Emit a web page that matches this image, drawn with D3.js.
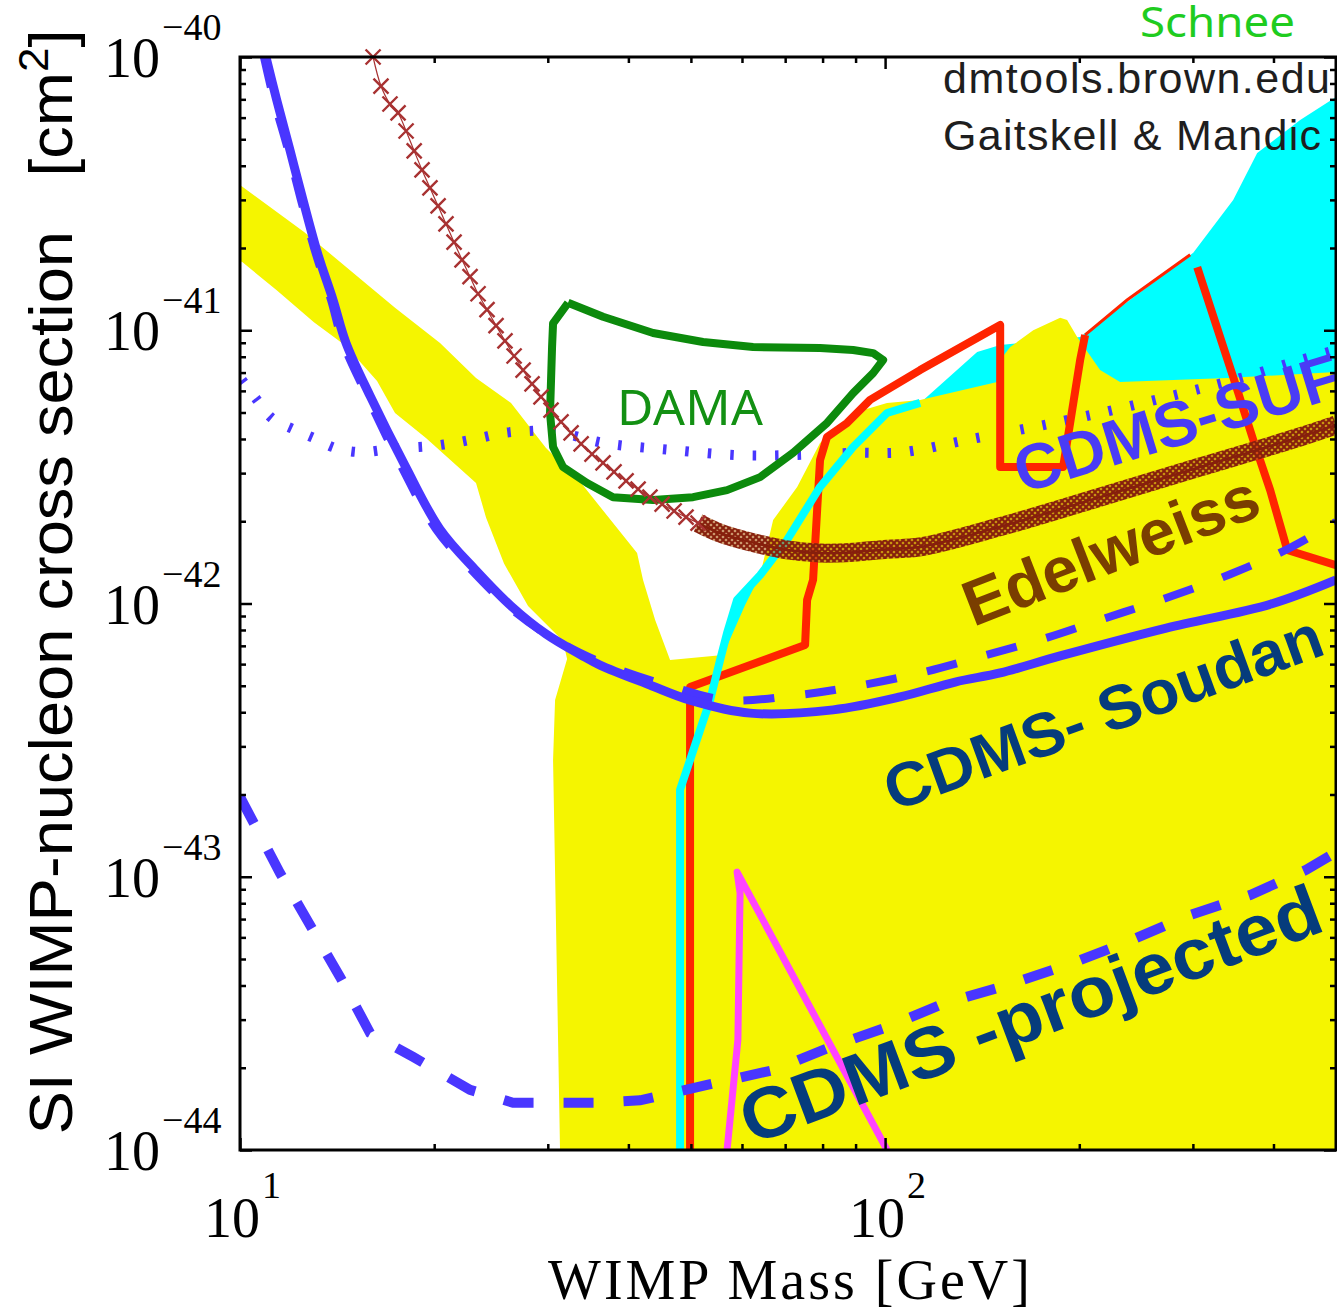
<!DOCTYPE html>
<html>
<head>
<meta charset="utf-8">
<script src="https://d3js.org/d3.v7.min.js"></script>
<style>
  body { margin: 0; background: #fff; }
  svg { display: block; }
  .tick line { stroke: #000; stroke-width: 2.5; }
</style>
</head>
<body>
<script>
// all values: [WIMP mass in GeV, cross section in cm^2]

// allowed region (yellow), band on the left plus the big area on the right
var yellowRegion = [[10,3.40e-41],[12.57,2.29e-41],[15.91,1.44e-41],[17.39,1.21e-41],[20.42,8.98e-42],
  [23.22,6.69e-42],[26.31,5.42e-42],[29.81,3.71e-42],[33.79,2.76e-42],[37.87,1.97e-42],[41.26,1.53e-42],
  [42.15,1.22e-42],[44.01,8.70e-43],[46.42,6.21e-43],[56.09,6.48e-43],[60.67,9.87e-43],[64.01,1.27e-42],
  [67.06,2.02e-42],[73.06,2.67e-42],[79.28,3.87e-42],[89.21,4.98e-42],[100.7,5.42e-42],[113.3,5.56e-42],
  [149.2,6.46e-42],[150.8,7.78e-42],[156.3,8.68e-42],[169.7,1.00e-41],[186.8,1.11e-41],[191.5,1.09e-41],
  [198.5,9.45e-42],[215.4,7.15e-42],[231.3,6.46e-42],[339,6.69e-42],[500,7.03e-42],[500,1e-44],
  [31.34,1e-44],[30.57,2.67e-43],[30.79,4.43e-43],[32.14,6.26e-43],[31.68,7.29e-43],[27.96,9.79e-43],
  [25.66,1.40e-42],[24.07,2.06e-42],[23.22,2.76e-42],[19.42,4.03e-42],[17.39,4.98e-42],[16.31,6.52e-42],
  [14.60,8.76e-42],[13.02,1.07e-41],[11.4,1.40e-41],[10.07,1.78e-41],[10,1.78e-41]];

// cyan region
var cyanRegion = [[48.10,1e-44],[48.10,2.08e-43],[51.66,3.44e-43],[55.49,6.21e-43],[58.96,1.03e-42],
  [64.01,1.27e-42],[70.48,1.71e-42],[79.28,2.67e-42],[89.21,3.74e-42],[100.7,4.98e-42],[113.3,5.42e-42],
  [138.9,8.32e-42],[150.8,8.83e-42],[200.6,9.45e-42],[300.4,1.92e-41],[346.4,3.00e-41],[377.4,4.45e-41],
  [440,5.88e-41],[500,7.14e-41],[500,1e-44]];

var cyanLine = [[48.10,1e-44],[48.10,2.08e-43],[51.66,3.44e-43],[53.55,4.43e-43],[55.49,6.21e-43],
  [56.89,7.80e-43],[58.96,1.03e-42],[64.01,1.27e-42],[70.48,1.71e-42],[79.28,2.67e-42],[89.21,3.74e-42],
  [100.7,4.98e-42],[113.3,5.42e-42]];

// red limit: thick lower part, thin piece on the cyan edge, thick right part
var redLine = [[49.85,1e-44],[49.85,4.95e-43],[75.16,7.05e-43],[75.70,1.03e-42],[77.33,1.22e-42],
  [79.28,3.35e-42],[81.29,4.07e-42],[87.32,4.58e-42],[94.78,5.56e-42],[113.3,7.15e-42],[150.8,1.045e-41],
  [150.8,3.16e-42],[188.8,3.16e-42],[200.6,7.78e-42],[204.2,9.61e-42]];
var redEdge = [[204.2,9.61e-42],[237.2,1.29e-41],[297.1,1.89e-41]];
var redRight = [[304.7,1.70e-41],[346.4,6.74e-42],[372.1,3.97e-42],[395.3,2.60e-42],[420.1,1.57e-42],
  [500,1.38e-42]];

var magentaLine = [[56.89,1e-44],[59.13,2.53e-44],[59.59,8.72e-44],[58.96,1.04e-43],[100.7,1e-44]];

// CDMS-SUF (dotted)
var sufDotted = [[10.07,6.57e-42],[10.6,5.60e-42],[11.2,4.77e-42],[12.08,4.35e-42],[13.02,4.03e-42],
  [14.04,3.71e-42],[15.35,3.58e-42],[16.73,3.65e-42],[18.03,3.71e-42],[19.84,3.77e-42],[21.47,3.87e-42],
  [23.47,4.03e-42],[25.66,4.21e-42],[27.96,4.28e-42],[30.57,4.28e-42],[36.54,3.87e-42],[46.42,3.65e-42],
  [58.96,3.49e-42],[70.48,3.49e-42],[89.21,3.56e-42],[106.6,3.58e-42],[134.0,3.97e-42],[169.7,4.42e-42],
  [215.4,4.98e-42],[273.8,5.70e-42],[346.4,6.57e-42],[440,7.78e-42],[500,8.47e-42]];

// CDMS-Soudan (solid) and the earlier Soudan limit (dashed)
var soudanSolid = [[10.97,1e-40],[11.4,6.96e-41],[11.95,4.57e-41],[12.52,3.00e-41],[13.21,1.89e-41],
  [13.94,1.29e-41],[14.60,8.98e-42],[15.91,5.75e-42],[18.03,3.19e-42],[20.42,1.87e-42],[23.22,1.32e-42],
  [26.31,9.79e-43],[29.81,7.73e-43],[33.79,6.48e-43],[36.15,5.95e-43],[43.2,5.03e-43],[49.85,4.43e-43],
  [61.76,3.97e-43],[83.05,4.08e-43],[105.5,4.55e-43],[128.4,5.16e-43],[150.8,5.57e-43],[186.8,6.43e-43],
  [272.8,8.13e-43],[396.7,9.96e-43],[500,1.22e-42]];

var soudanDashed = [[10.89,1e-40],[11.29,6.96e-41],[11.87,4.57e-41],[12.43,3.00e-41],[13.12,1.89e-41],
  [13.84,1.29e-41],[14.45,8.98e-42],[15.74,5.75e-42],[17.77,3.19e-42],[20.13,1.87e-42],[22.89,1.32e-42],
  [26.03,9.79e-43],[29.49,7.86e-43],[33.42,6.65e-43],[38.83,5.71e-43],[46.42,4.99e-43],[56.89,4.43e-43],
  [73.06,4.62e-43],[90.50,4.99e-43],[113.3,5.57e-43],[141.9,6.43e-43],[177.7,7.48e-43],[220.0,8.85e-43],
  [272.8,1.047e-42],[342.7,1.28e-42],[424.6,1.60e-42],[500,1.99e-42]];

// CDMS projected (dashed)
var projected = [[10,1.96e-43],[11.54,1.03e-43],[14.29,4.30e-44],[15.91,2.68e-44],[18.55,2.19e-44],
  [22.73,1.66e-44],[26.5,1.49e-44],[35.77,1.49e-44],[41.71,1.52e-44],[52.97,1.73e-44],[67.06,1.96e-44],
  [82.16,2.38e-44],[100,2.80e-44],[123.9,3.45e-44],[152.9,3.98e-44],[191.5,4.75e-44],[237.2,5.77e-44],
  [294.0,7.18e-44],[368.1,8.57e-44],[449.5,1.06e-43],[500,1.23e-43]];

// Edelweiss: single markers at low mass, then a dense band of markers
var edelweissPoints = [[16.08,1.0e-40],[16.54,7.83e-41],[17.08,6.73e-41],[17.58,6.24e-41],[18.09,5.36e-41],
  [18.62,4.53e-41],[19.15,3.86e-41],[19.70,3.32e-41],[20.28,2.85e-41],[20.86,2.45e-41],[21.47,2.10e-41],
  [22.09,1.81e-41],[22.73,1.57e-41],[23.39,1.36e-41],[24.15,1.19e-41],[24.94,1.04e-41],[25.75,9.14e-42],
  [26.60,8.05e-42],[27.47,7.15e-42],[28.36,6.36e-42],[29.28,5.70e-42],[30.35,5.10e-42],[31.45,4.62e-42],
  [32.60,4.21e-42],[33.79,3.84e-42],[35.13,3.52e-42],[36.54,3.27e-42],[38.0,3.03e-42],[39.67,2.81e-42],
  [41.41,2.62e-42],[43.2,2.45e-42],[45.12,2.31e-42],[47.09,2.18e-42],[49.14,2.07e-42],[51.29,1.97e-42]];

var edelweissBand = [[51.29,1.97e-42],[55.49,1.81e-42],[62.42,1.67e-42],[70.48,1.57e-42],[79.28,1.53e-42],
  [89.21,1.54e-42],[100.7,1.58e-42],[113.3,1.61e-42],[150.8,1.91e-42],[215.4,2.45e-42],[308.0,3.16e-42],
  [440,4.07e-42],[500,4.50e-42]];

// DAMA contour
var damaContour = [[32.25,1.26e-41],[30.57,1.06e-41],[30.46,8.68e-42],[30.24,4.98e-42],[30.57,3.74e-42],
  [31.68,3.16e-42],[34.51,2.76e-42],[37.87,2.45e-42],[43.69,2.39e-42],[50.38,2.45e-42],[56.89,2.60e-42],
  [64.01,2.90e-42],[72.02,3.56e-42],[81.29,4.58e-42],[89.21,5.89e-42],[95.81,6.97e-42],[99.29,7.78e-42],
  [95.81,8.25e-42],[89.21,8.47e-42],[79.28,8.61e-42],[62.42,8.68e-42],[52.22,9.06e-42],[43.69,9.77e-42],
  [36.54,1.12e-41],[32.25,1.26e-41]];

// tick label exponents
var xExponents = [1, 2];
var yExponents = [-40, -41, -42, -43, -44];

// set the dimensions and margins of the graph
var margin = {top: 57, right: 1, bottom: 162, left: 240},
    width = 1337 - margin.left - margin.right,
    height = 1312 - margin.top - margin.bottom;

var x = d3.scaleLog().domain([10, 500]).range([0, width]);
var y = d3.scaleLog().domain([1e-44, 1e-40]).range([height, 0]);

// straight segments for the experimental outlines
var line = d3.line()
    .x(function(d) { return x(d[0]); })
    .y(function(d) { return y(d[1]); });

// smooth curves for the limit lines
var smooth = d3.line()
    .curve(d3.curveCatmullRom.alpha(0.5))
    .x(function(d) { return x(d[0]); })
    .y(function(d) { return y(d[1]); });

var root = d3.select("body").append("svg")
    .attr("width", 1337)
    .attr("height", 1312);

var defs = root.append("defs");
defs.append("clipPath").attr("id", "plot-clip")
    .append("rect").attr("width", width).attr("height", height);

// little x's used for the dense part of the Edelweiss curve
var hatch = defs.append("pattern")
    .attr("id", "xhatch")
    .attr("patternUnits", "userSpaceOnUse")
    .attr("width", 6).attr("height", 6);
hatch.append("rect").attr("width", 6).attr("height", 6).attr("fill", "#b5651a").attr("opacity", 0.6);
hatch.append("path")
    .attr("d", "M0,0L6,6M6,0L0,6")
    .attr("stroke", "#861f0c")
    .attr("stroke-width", 2);

var svg = root.append("g")
    .attr("transform", "translate(" + margin.left + "," + margin.top + ")");

var plot = svg.append("g").attr("clip-path", "url(#plot-clip)");

// filled regions
plot.append("path").datum(cyanRegion).attr("d", line).attr("fill", "#00ffff");
plot.append("path").datum(yellowRegion).attr("d", line).attr("fill", "#f5f500");

// CDMS-SUF dotted
plot.append("path").datum(sufDotted).attr("d", smooth)
    .attr("fill", "none").attr("stroke", "#4936ff")
    .attr("stroke-width", 10).attr("stroke-dasharray", "3.5,19");

// other limits
plot.append("path").datum(redLine).attr("d", line)
    .attr("fill", "none").attr("stroke", "#ff2400").attr("stroke-width", 8)
    .attr("stroke-linejoin", "round");
plot.append("path").datum(redEdge).attr("d", line)
    .attr("fill", "none").attr("stroke", "#ff2400").attr("stroke-width", 3);
plot.append("path").datum(redRight).attr("d", line)
    .attr("fill", "none").attr("stroke", "#ff2400").attr("stroke-width", 8)
    .attr("stroke-linejoin", "round");
plot.append("path").datum(cyanLine).attr("d", line)
    .attr("fill", "none").attr("stroke", "#00ffff").attr("stroke-width", 8)
    .attr("stroke-linejoin", "round");
plot.append("path").datum(magentaLine).attr("d", line)
    .attr("fill", "none").attr("stroke", "#ff44ff").attr("stroke-width", 7)
    .attr("stroke-linejoin", "round");

// DAMA
plot.append("path").datum(damaContour).attr("d", line)
    .attr("fill", "none").attr("stroke", "#0c8a0c").attr("stroke-width", 8)
    .attr("stroke-linejoin", "round");

// Edelweiss band
plot.append("path").datum(edelweissBand).attr("d", smooth)
    .attr("fill", "none").attr("stroke", "url(#xhatch)").attr("stroke-width", 19);
plot.append("path").datum(edelweissBand).attr("d", smooth)
    .attr("fill", "none").attr("stroke", "#861f0c").attr("stroke-width", 2.5);

// CDMS projected and Soudan
plot.append("path").datum(projected).attr("d", line)
    .attr("fill", "none").attr("stroke", "#4936ff")
    .attr("stroke-width", 10).attr("stroke-dasharray", "30,30");
plot.append("path").datum(soudanDashed).attr("d", smooth)
    .attr("fill", "none").attr("stroke", "#4936ff")
    .attr("stroke-width", 8).attr("stroke-dasharray", "31,31");
plot.append("path").datum(soudanSolid).attr("d", smooth)
    .attr("fill", "none").attr("stroke", "#4936ff").attr("stroke-width", 9);

// Edelweiss single markers
svg.append("path").datum(edelweissPoints).attr("d", smooth)
    .attr("fill", "none").attr("stroke", "#a83232").attr("stroke-width", 1.2);
svg.selectAll(".edel")
    .data(edelweissPoints)
  .enter().append("path")
    .attr("class", "edel")
    .attr("d", "M-7.5,-7.5L7.5,7.5M7.5,-7.5L-7.5,7.5")
    .attr("transform", function(d) { return "translate(" + x(d[0]) + "," + y(d[1]) + ")"; })
    .attr("stroke", "#a83232")
    .attr("stroke-width", 2.4);

// labels inside the plot
var boldFont = "'Liberation Sans', Arial, sans-serif";
function tiltedLabel(txt, m, s, angle, size, len, color) {
  plot.append("text")
      .attr("transform", "translate(" + x(m) + "," + y(s) + ") rotate(" + angle + ")")
      .attr("font-family", boldFont)
      .attr("font-weight", "bold")
      .attr("font-size", size)
      .attr("fill", color)
      .attr("textLength", len)
      .attr("lengthAdjust", "spacingAndGlyphs")
      .text(txt);
}
// the SUF label runs past the right edge in the reference, so it stays clipped
tiltedLabel("CDMS-SUF", 163, 2.52e-42, -17, 64, 338, "#4a3cf5");
tiltedLabel("Edelweiss", 137, 8.2e-43, -21.2, 64, 312, "#7a3e00");
tiltedLabel("CDMS- Soudan", 103, 1.73e-43, -20, 62, 462, "#063c7c");
tiltedLabel("CDMS -projected", 62, 1.04e-44, -20.5, 72, 615, "#063c7c");

plot.append("text")
    .attr("x", x(49.85)).attr("y", y(4.5e-42))
    .attr("text-anchor", "middle")
    .attr("font-family", "'Noto Sans', 'Open Sans', sans-serif")
    .attr("font-size", 50)
    .attr("fill", "#139013")
    .attr("textLength", 146)
    .text("DAMA");

// credits
root.append("text").attr("x", 943).attr("y", 93)
    .attr("font-family", "'Liberation Sans', Arial, sans-serif")
    .attr("font-size", 43).attr("fill", "#1e1e1e")
    .attr("textLength", 387)
    .text("dmtools.brown.edu");
root.append("text").attr("x", 943).attr("y", 150)
    .attr("font-family", "'Liberation Sans', Arial, sans-serif")
    .attr("font-size", 43).attr("fill", "#1e1e1e")
    .attr("textLength", 378)
    .text("Gaitskell & Mandic");
root.append("text").attr("x", 1140).attr("y", 37)
    .attr("font-family", "'Noto Sans', sans-serif")
    .attr("font-size", 42).attr("fill", "#1fcc1f")
    .attr("textLength", 155)
    .attr("lengthAdjust", "spacingAndGlyphs")
    .text("Schnee");

// ticks on all four sides, pointing inward
function isDecade(d) { var l = Math.log10(d); return Math.abs(l - Math.round(l)) < 1e-6; }
var xMajor = x.ticks().filter(isDecade), xMinor = x.ticks().filter(function(d) { return !isDecade(d); });
var yMajor = y.ticks().filter(isDecade), yMinor = y.ticks().filter(function(d) { return !isDecade(d); });

function tickAxis(axis, values, size, tr) {
  var g = svg.append("g").attr("transform", tr)
      .call(axis.tickValues(values).tickSize(-size).tickFormat(""));
  g.select(".domain").remove();
}
tickAxis(d3.axisLeft(y), yMajor, 12, "translate(0,0)");
tickAxis(d3.axisLeft(y), yMinor, 6, "translate(0,0)");
tickAxis(d3.axisRight(y), yMajor, 12, "translate(" + width + ",0)");
tickAxis(d3.axisRight(y), yMinor, 6, "translate(" + width + ",0)");
tickAxis(d3.axisBottom(x), xMajor, 12, "translate(0," + height + ")");
tickAxis(d3.axisBottom(x), xMinor, 6, "translate(0," + height + ")");
tickAxis(d3.axisTop(x), xMajor, 12, "translate(0,0)");
tickAxis(d3.axisTop(x), xMinor, 6, "translate(0,0)");

// frame
svg.append("rect")
    .attr("width", width).attr("height", height)
    .attr("fill", "none").attr("stroke", "#000").attr("stroke-width", 3);

// tick labels as 10 with a superscript exponent
var serif = "'Liberation Serif', 'Times New Roman', serif";
yExponents.forEach(function(e) {
  var py = y(Math.pow(10, e));
  svg.append("text").attr("x", -80).attr("y", py + 20)
      .attr("text-anchor", "end").attr("font-family", serif).attr("font-size", 56)
      .text("10");
  svg.append("text").attr("x", -78).attr("y", py - 17)
      .attr("font-family", serif).attr("font-size", 38)
      .text("\u2212" + Math.abs(e));
});
xExponents.forEach(function(e) {
  var px = x(Math.pow(10, e));
  svg.append("text").attr("x", px - 8).attr("y", height + 87)
      .attr("text-anchor", "middle").attr("font-family", serif).attr("font-size", 56)
      .text("10");
  svg.append("text").attr("x", px + 22).attr("y", height + 48)
      .attr("font-family", serif).attr("font-size", 38)
      .text(String(e));
});

// axis titles
svg.append("text")
    .attr("x", 549).attr("y", height + 149)
    .attr("text-anchor", "middle")
    .attr("font-family", serif).attr("font-size", 56)
    .attr("textLength", 482)
    .text("WIMP Mass [GeV]");

var ylab = svg.append("text")
    .attr("transform", "translate(-168," + 525 + ") rotate(-90)")
    .attr("text-anchor", "middle")
    .attr("font-family", "'Liberation Sans Narrow', 'Liberation Sans', Arial, sans-serif")
    .attr("font-size", 62)
    .attr("textLength", 1105)
    .attr("lengthAdjust", "spacingAndGlyphs");
ylab.append("tspan").text("SI WIMP-nucleon cross section\u00a0\u00a0 [cm");
ylab.append("tspan").attr("font-size", 42).attr("dy", -24).text("2");
ylab.append("tspan").attr("dy", 24).text("]");
</script>
</body>
</html>
